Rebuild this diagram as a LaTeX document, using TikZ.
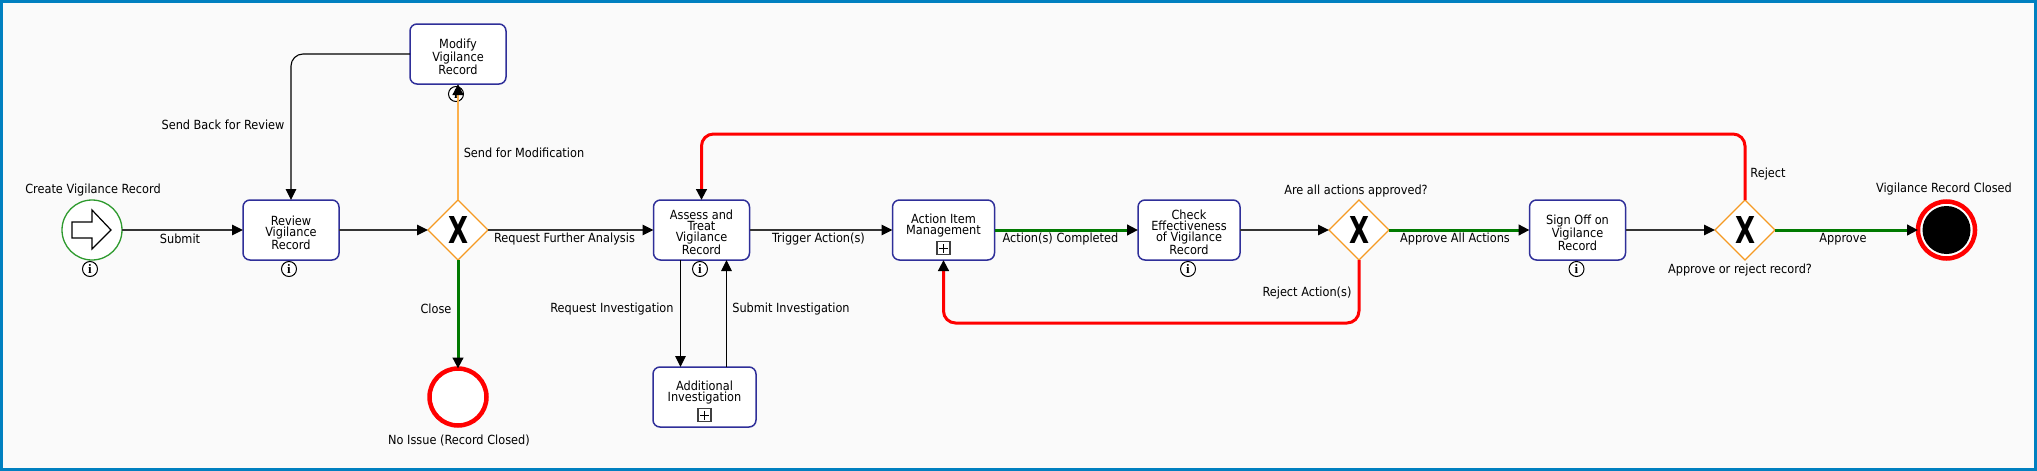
\documentclass[tikz,border=0pt]{standalone}
\usepackage{fontspec}
\usepackage{graphicx}
\setmainfont{DejaVu Sans Condensed}
\newfontfamily\xfont{DejaVu Sans}
\newfontfamily\ifont{Liberation Serif}
\usetikzlibrary{arrows.meta,shapes.geometric}
\definecolor{frameblue}{HTML}{0080C0}
\definecolor{panelbg}{HTML}{FAFAFA}
\definecolor{navy}{HTML}{2F2F99}
\definecolor{gold}{HTML}{F59A23}
\definecolor{flowgold}{HTML}{FBB04C}
\definecolor{flowgreen}{HTML}{007A00}
\definecolor{startgreen}{HTML}{2E9A2E}
\tikzset{
  every node/.style={font=\fontsize{12.6}{11}\selectfont,inner sep=0pt,outer sep=0pt},
  tip/.style={-{Triangle[length=11pt,width=10.5pt,black]}},
  flow/.style={tip,draw=black!80,line width=1.5pt},
  thinflow/.style={tip,draw=black,line width=1.1pt,rounded corners=12pt},
  goodflow/.style={tip,draw=flowgreen,line width=3pt},
  badflow/.style={tip,draw=red,line width=3pt,rounded corners=12pt},
  modflow/.style={tip,draw=flowgold,line width=2.8pt},
  taskbox/.style={draw=navy,line width=1.5pt,fill=white,rounded corners=7pt,minimum height=60pt,align=center},
  gate/.style={diamond,aspect=1,draw=gold,line width=1.3pt,fill=white,minimum width=60pt,minimum height=60pt},
  startev/.style={circle,draw=startgreen,line width=1.3pt,fill=white,minimum size=60pt},
  endev/.style={circle,draw=red,line width=4.5pt,fill=white,minimum size=57pt},
  endcore/.style={circle,fill=black,minimum size=48pt},
  infoicon/.style={circle,draw=black,line width=1pt,fill=white,minimum size=15pt,font=\ifont\bfseries\fontsize{13}{13}\selectfont},
  plusbox/.style={draw=black!75,line width=1.3pt,fill=white,minimum size=13pt,
    path picture={\draw[black,line width=1pt]
      ([xshift=-4.5pt]path picture bounding box.center)--([xshift=4.5pt]path picture bounding box.center)
      ([yshift=-4.5pt]path picture bounding box.center)--([yshift=4.5pt]path picture bounding box.center);}},
  lbl/.style={align=center,yshift=-1.2pt},
}
\newcommand{\bigx}{\resizebox{20pt}{27pt}{\xfont\bfseries X}}
\newcommand{\boxtxt}[1]{\raisebox{-5.5pt}[0pt][0pt]{\parbox{96pt}{\centering #1}}}
\begin{document}
\begin{tikzpicture}[x=1pt,y=-1pt]
\useasboundingbox (0,0) rectangle (2037,471);
\fill[frameblue] (0,0) rectangle (2037,471);
\fill[panelbg] (3,3) rectangle (2034,468);

% events
\node[startev] (start) at (92,230) {};
\draw[black,line width=1.2pt,fill=white,line join=miter]
  (72,222) -- (92,222) -- (92,210) -- (111,230) -- (92,249) -- (92,238) -- (72,238) -- cycle;
\node[endev] (noissue) at (458,397) {};
\node[endev] (closed) at (1946.5,230) {};
\node[endcore] (closedcore) at (1946.5,230) {};

% tasks
\node[taskbox,minimum width=96pt] (review) at (291,230) {\boxtxt{Review\\Vigilance\\Record}};
\node[taskbox,minimum width=96pt] (modify) at (458,54) {\boxtxt{Modify\\Vigilance\\Record}};
\node[taskbox,minimum width=96pt] (assess) at (701.5,230) {\boxtxt{Assess and\\Treat\\Vigilance\\Record}};
\node[taskbox,minimum width=102pt,label={[align=center,yshift=4.5pt]center:Action Item\\Management}] (action) at (943.5,230) {};
\node[taskbox,minimum width=102pt] (check) at (1189,230) {\boxtxt{Check\\Effectiveness\\of Vigilance\\Record}};
\node[taskbox,minimum width=95pt] (signoff) at (1577.5,230) {\boxtxt{Sign Off on\\Vigilance\\Record}};
\node[taskbox,minimum width=103pt,label={[align=center,yshift=4pt]center:Additional\\Investigation}] (addl) at (704.5,397) {};

% gateways
\node[gate] (g1) at (458,230) {\bigx};
\node[gate] (g2) at (1359,230) {\bigx};
\node[gate] (g3) at (1745,230) {\bigx};

% icons
\node[infoicon] (i1) at (90,269) {i};
\node[infoicon] (i2) at (289,269) {i};
\node[infoicon] (i3) at (456,94) {i};
\node[infoicon] (i4) at (700,269) {i};
\node[infoicon] (i5) at (1188,269) {i};
\node[infoicon] (i6) at (1576.5,269) {i};
\node[plusbox] (p1) at (943.5,248) {};
\node[plusbox] (p2) at (704.5,415) {};

% rails
\coordinate (toprail) at (1200,134);
\coordinate (botrail) at (1150,323);
\coordinate (reqx) at (680.5,310);
\coordinate (subx) at (726.5,310);

% connectors
\draw[flow] (start.east) -- (review.west);
\draw[flow] (review.east) -- (g1.west);
\draw[flow] (g1.east) -- (assess.west);
\draw[flow] (assess.east) -- (action.west);
\draw[goodflow] (action.east) -- (check.west);
\draw[flow] (check.east) -- (g2.west);
\draw[goodflow] (g2.east) -- (signoff.west);
\draw[flow] (signoff.east) -- (g3.west);
\draw[goodflow] (g3.east) -- (closed.west);
\draw[goodflow] (g1.south) -- (noissue.north);
\draw[modflow] (g1.north) -- (modify.south);
\draw[thinflow] (modify.west) -| (review.north);
\draw[thinflow] (assess.south -| reqx) -- (addl.north -| reqx);
\draw[thinflow] (addl.north -| subx) -- (assess.south -| subx);
\draw[badflow] (g3.north) |- (toprail) -| (assess.north);
\draw[badflow] (g2.south) |- (botrail) -| (action.south);

% labels
\node[lbl] (t1) at (93,189) {Create Vigilance Record};
\node[lbl] (t2) at (180,238) {Submit};
\node[lbl] (t3) at (223,124) {Send Back for Review};
\node[lbl] (t4) at (524,152) {Send for Modification};
\node[lbl] (t5) at (564.5,238) {Request Further Analysis};
\node[lbl] (t6) at (436,308) {Close};
\node[lbl] (t7) at (612,308) {Request Investigation};
\node[lbl] (t8) at (459,439) {No Issue (Record Closed)};
\node[lbl] (t9) at (818.5,238) {Trigger Action(s)};
\node[lbl] (t10) at (1060.5,238) {Action(s) Completed};
\node[lbl] (t11) at (791,308) {Submit Investigation};
\node[lbl] (t12) at (1356,190) {Are all actions approved?};
\node[lbl] (t13) at (1307,292) {Reject Action(s)};
\node[lbl] (t14) at (1455,238) {Approve All Actions};
\node[lbl] (t15) at (1843,238) {Approve};
\node[lbl] (t16) at (1740,269) {Approve or reject record?};
\node[lbl] (t17) at (1768,173) {Reject};
\node[lbl] (t18) at (1944,188) {Vigilance Record Closed};
\end{tikzpicture}
\end{document}
